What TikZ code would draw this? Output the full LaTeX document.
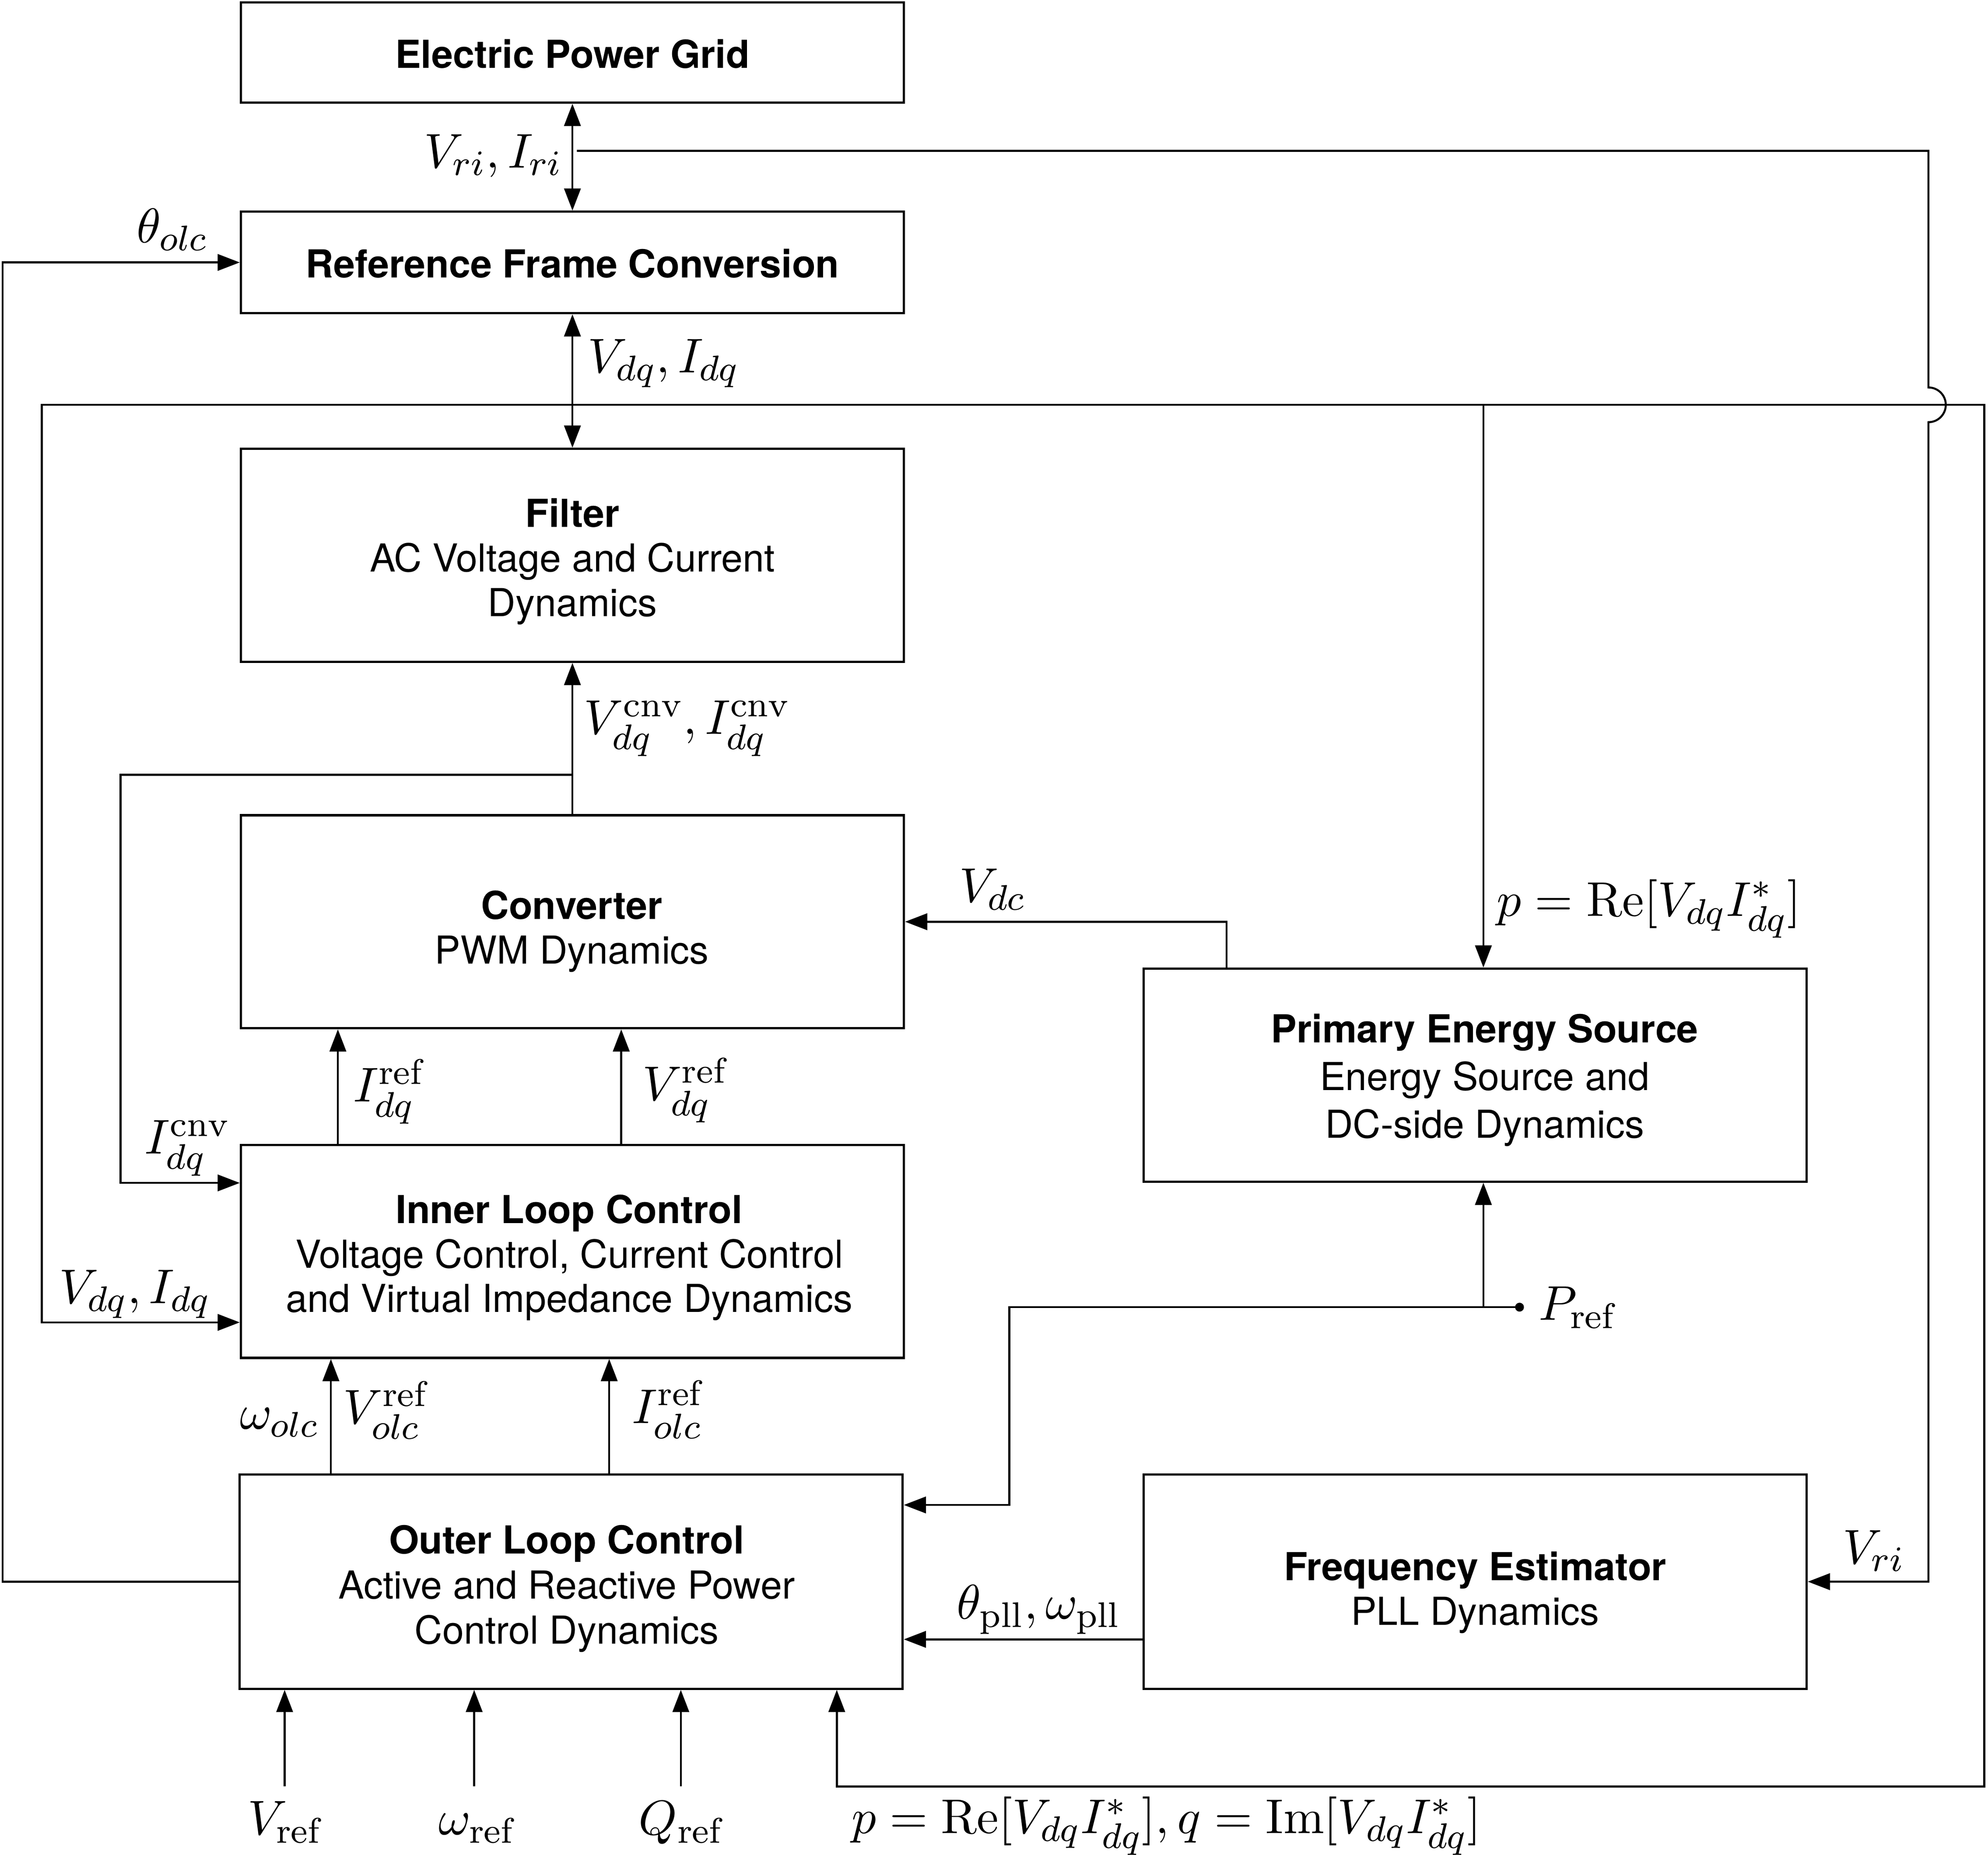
\documentclass[tikz,border=0pt]{standalone}
\usepackage{amsmath}
\usepackage{fontspec}
\newfontfamily\helvfont{TeX Gyre Heros}
\usetikzlibrary{arrows.meta}
\tikzstyle{blockStyle}=[shape = rectangle, draw, line width = 0.5pt, minimum width = 52.3mm, inner sep = 0pt]
\tikzstyle{blockText}=[inner sep = 0pt, align = center, font = \helvfont\fontsize{8.65}{10}\selectfont]
\tikzstyle{signalStyle}=[inner sep = 0pt, anchor = base west, font = \fontsize{10.95}{13}\selectfont]

\begin{document}
\begin{tikzpicture}[x = 0.1mm, y = -0.1mm]
\tikzstyle{sigArrow}=[line width = 0.45pt, -{Triangle[length = 1.75mm, width = 1.3mm]}]
\tikzstyle{dualArrow}=[line width = 0.45pt, {Triangle[length = 1.75mm, width = 1.3mm]}-{Triangle[length = 1.75mm, width = 1.3mm]}]
\tikzstyle{dotStyle}=[shape = circle, fill, minimum size = 0.7mm, inner sep = 0pt]
\useasboundingbox (0,0) rectangle (1568,1463);
\node[blockStyle, minimum height = 7.9mm] (grid) at (451.5,41.5) {};
\node[blockStyle, minimum height = 8mm] (rfc) at (451.5,207) {};
\node[blockStyle, minimum height = 16.8mm] (filter) at (451.5,438) {};
\node[blockStyle, minimum height = 16.8mm] (conv) at (451.5,727) {};
\node[blockStyle, minimum height = 16.8mm] (pes) at (1163.5,848) {};
\node[blockStyle, minimum height = 16.8mm] (ilc) at (451.5,987) {};
\node[blockStyle, minimum height = 16.9mm] (olc) at (450.5,1247.5) {};
\node[blockStyle, minimum height = 16.9mm] (fe) at (1163.5,1247.5) {};
\node[blockText] (gridText) at (451.5,42.5) {\textbf{Electric Power Grid}};
\node[blockText] (rfcText) at (451.5,208) {\textbf{Reference Frame Conversion}};
\node[blockText] (filterText) at (451.5,443) {\textbf{Filter}\\AC Voltage and Current\\Dynamics};
\node[blockText] (convText) at (451,734.5) {\textbf{Converter}\\PWM Dynamics};
\node[blockText, font = \helvfont\fontsize{8.65}{10.7}\selectfont] (pesText) at (1171,852) {\textbf{Primary Energy Source}\\Energy Source and\\DC-side Dynamics};
\node[blockText] (ilcText) at (449,992) {\textbf{Inner Loop Control}\\Voltage Control, Current Control\\and Virtual Impedance Dynamics};
\node[blockText, font = \helvfont\fontsize{8.65}{10.1}\selectfont] (olcText) at (447,1253) {\textbf{Outer Loop Control}\\Active and Reactive Power\\Control Dynamics};
\node[blockText] (feText) at (1163.5,1256) {\textbf{Frequency Estimator}\\PLL Dynamics};
\node[dotStyle] (prefDot) at (1198.5,1031) {};
\coordinate (vriTap) at (455,119);
\coordinate (vriCorner) at (1521,119);
\coordinate (jumpTop) at (1521,305.6);
\coordinate (vriIn) at (1521,1247.5);
\coordinate (olcBack) at (2,1247.5);
\coordinate (vdqTap) at (451.5,319.3);
\coordinate (vdqIn) at (33,1043);
\coordinate (busPes) at (1170,319.3);
\coordinate (busRight) at (1565,319.3);
\coordinate (pqCorner) at (660,1409);
\coordinate (cnvTap) at (451.5,611);
\coordinate (cnvIn) at (95,933);
\coordinate (iRefX) at (266.5,0);
\coordinate (vRefX) at (490,0);
\coordinate (vOlcX) at (261,0);
\coordinate (iOlcX) at (480.5,0);
\coordinate (vdcX) at (967.5,0);
\coordinate (prefJoin) at (1170,1031);
\coordinate (prefBend) at (796,1187);
\coordinate (pllY) at (0,1293);
\draw[dualArrow] (grid.south) -- (rfc.north);
\draw[dualArrow] (rfc.south) -- (filter.north);
\draw[sigArrow] (vriTap) -- (vriCorner) -- (jumpTop) arc[start angle = 90, end angle = -90, radius = 1.37mm] -- (vriIn) -- (fe.east);
\draw[sigArrow] (olc.west) -- (olcBack) |- (rfc.west);
\draw[sigArrow] (vdqTap) -| (vdqIn) -- (vdqIn -| ilc.west);
\draw[sigArrow] (vdqTap) -- (busRight) -- (busRight |- pqCorner) -- (pqCorner) -- (pqCorner |- olc.south);
\draw[sigArrow] (busPes) -- (busPes |- pes.north);
\draw[sigArrow] (conv.north) -- (filter.south);
\draw[sigArrow] (cnvTap) -| (cnvIn) -- (cnvIn -| ilc.west);
\draw[sigArrow] (iRefX |- ilc.north) -- (iRefX |- conv.south);
\draw[sigArrow] (vRefX |- ilc.north) -- (vRefX |- conv.south);
\draw[sigArrow] (vOlcX |- olc.north) -- (vOlcX |- ilc.south);
\draw[sigArrow] (iOlcX |- olc.north) -- (iOlcX |- ilc.south);
\draw[sigArrow] (vdcX |- pes.north) |- (conv.east);
\draw[sigArrow] (prefDot.center) -- (prefJoin) -- (prefJoin |- pes.south);
\draw[sigArrow] (prefJoin) -| (prefBend) -- (prefBend -| olc.east);
\draw[sigArrow] (fe.west |- pllY) -- (olc.east |- pllY);
\foreach \xx/\nm in {224.5/vRef, 374/wRef, 537/qRef}
{
  \coordinate (src\nm) at (\xx,1409);
  \draw[sigArrow] (src\nm) -- (src\nm |- olc.south);
}
\node[signalStyle] (vriLabel) at (334,132.5) {$V_{ri}, I_{ri}$};
\node[signalStyle] (thetaOlcLabel) at (107,191.5) {$\theta_{olc}$};
\node[signalStyle] (vdqTopLabel) at (463,294) {$V_{dq}, I_{dq}$};
\node[signalStyle] (cnvLabel) at (460,579) {$V_{dq}^{\mathrm{cnv}}, I_{dq}^{\mathrm{cnv}}$};
\node[signalStyle] (pTopLabel) at (1180,722.5) {$p = \mathrm{Re}[V_{dq} I_{dq}^{*}]$};
\node[signalStyle] (vdcLabel) at (756,711.5) {$V_{dc}$};
\node[signalStyle] (iRefLabel) at (278,869) {$I_{dq}^{\mathrm{ref}}$};
\node[signalStyle] (vRefLabel) at (506,868) {$V_{dq}^{\mathrm{ref}}$};
\node[signalStyle] (iCnvLabel) at (113.5,910) {$I_{dq}^{\mathrm{cnv}}$};
\node[signalStyle] (vdqLeftLabel) at (46,1028) {$V_{dq}, I_{dq}$};
\node[signalStyle] (prefLabel) at (1213,1041) {$P_{\mathrm{ref}}$};
\node[signalStyle] (wOlcLabel) at (188.5,1127) {$\omega_{olc}$};
\node[signalStyle] (vOlcLabel) at (270,1123) {$V_{olc}^{\mathrm{ref}}$};
\node[signalStyle] (iOlcLabel) at (498,1122.5) {$I_{olc}^{\mathrm{ref}}$};
\node[signalStyle] (vriRightLabel) at (1453,1233.5) {$V_{ri}$};
\node[signalStyle] (pllLabel) at (754,1277) {$\theta_{\mathrm{pll}}, \omega_{\mathrm{pll}}$};
\node[signalStyle, anchor = base] (vRefInLabel) at (224.5,1447) {$V_{\mathrm{ref}}$};
\node[signalStyle, anchor = base] (wRefInLabel) at (376,1447) {$\omega_{\mathrm{ref}}$};
\node[signalStyle, anchor = base] (qRefInLabel) at (537,1447) {$Q_{\mathrm{ref}}$};
\node[signalStyle] (pqLabel) at (671,1446) {$p = \mathrm{Re}[V_{dq} I_{dq}^{*}], q = \mathrm{Im}[V_{dq} I_{dq}^{*}]$};
\end{tikzpicture}
\end{document}
